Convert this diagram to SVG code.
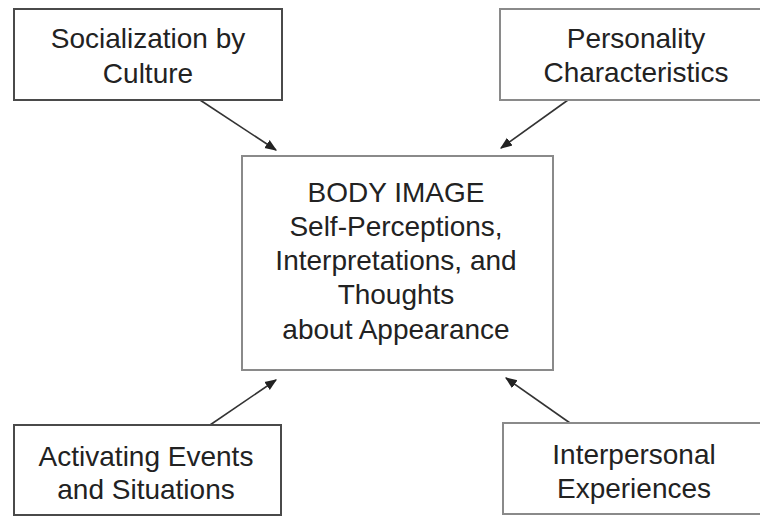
<svg xmlns="http://www.w3.org/2000/svg" width="760" height="516" viewBox="0 0 760 516">
<style>
.box{fill:#fff;stroke:#4a4a4a;stroke-width:2}
.boxl{fill:#fff;stroke:#8a8a8a;stroke-width:2}
.t{font-family:"Liberation Sans",Arial,sans-serif;font-size:28px;fill:#222;text-anchor:middle}
.c{stroke:#333;stroke-width:1.6;fill:none;marker-end:url(#ah)}
</style>
<defs>
<marker id="ah" viewBox="0 0 10 10" refX="9" refY="5" markerWidth="12" markerHeight="12" markerUnits="userSpaceOnUse" orient="auto">
<path d="M0,1 L10,5 L0,9 Z" fill="#222"/>
</marker>
</defs>
<rect width="760" height="516" fill="#fff"/>
<g id="connectors">
<line class="c" x1="200" y1="100" x2="276" y2="150"/>
<line class="c" x1="568" y1="100" x2="501" y2="148"/>
<line class="c" x1="210" y1="425" x2="276" y2="380"/>
<line class="c" x1="570" y1="423" x2="506" y2="378"/>
</g>
<g id="socialization">
<rect class="box" x="14" y="9" width="268" height="91"/>
<text class="t" x="148" y="48">Socialization by</text>
<text class="t" x="148" y="83">Culture</text>
</g>
<g id="personality">
<rect class="boxl" x="500" y="9" width="270" height="91"/>
<text class="t" x="636" y="48">Personality</text>
<text class="t" x="636" y="82">Characteristics</text>
</g>
<g id="bodyimage">
<rect class="boxl" x="242" y="156" width="311" height="214"/>
<text class="t" x="396" y="202">BODY IMAGE</text>
<text class="t" x="396" y="236">Self-Perceptions,</text>
<text class="t" x="396" y="270">Interpretations, and</text>
<text class="t" x="396" y="304">Thoughts</text>
<text class="t" x="396" y="339">about Appearance</text>
</g>
<g id="activating">
<rect class="box" x="14" y="425" width="267" height="90"/>
<text class="t" x="146" y="466">Activating Events</text>
<text class="t" x="146" y="499">and Situations</text>
</g>
<g id="interpersonal">
<rect class="boxl" x="503" y="423" width="270" height="91"/>
<text class="t" x="634" y="464">Interpersonal</text>
<text class="t" x="634" y="498">Experiences</text>
</g>
</svg>
